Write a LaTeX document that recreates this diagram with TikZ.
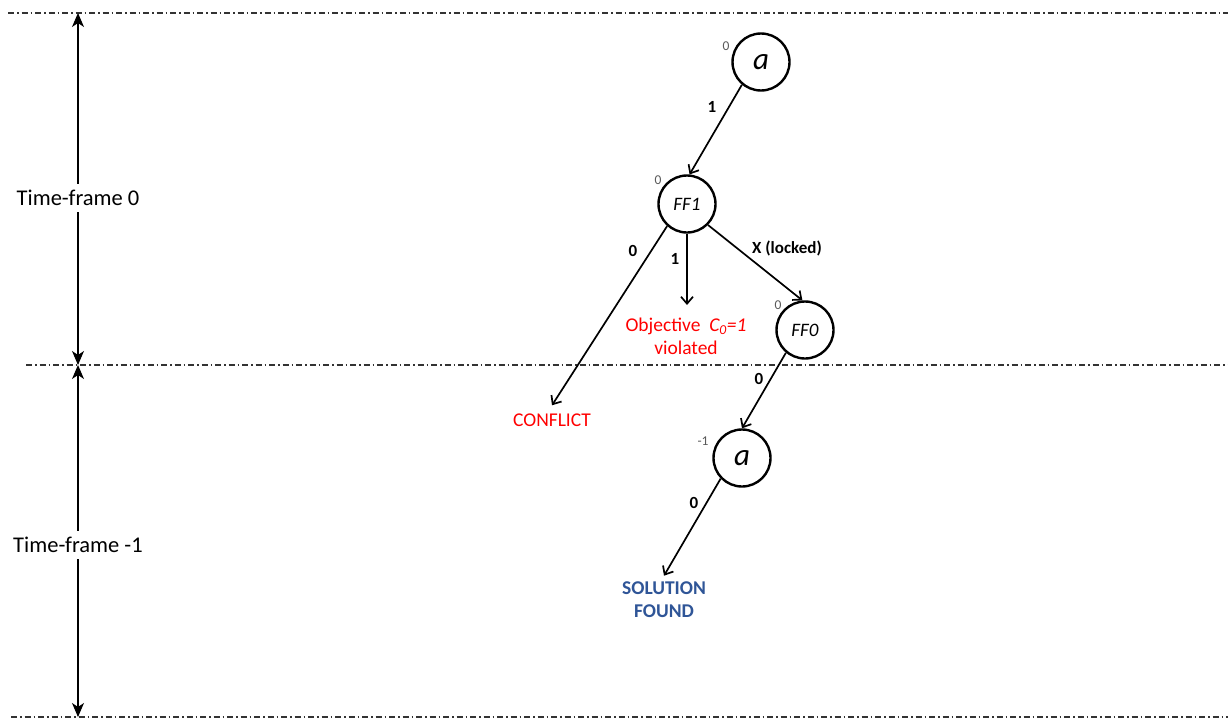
\documentclass[tikz,border=0pt]{standalone}
\usepackage{fontspec}
\setmainfont{Carlito}
\usepackage{tikz}
\usetikzlibrary{arrows.meta}
\definecolor{konfliktrot}{RGB}{255,0,0}
\definecolor{loesungblau}{RGB}{47,85,151}
\definecolor{zahlgrau}{RGB}{90,90,90}

\begin{document}
\begin{tikzpicture}[x=1pt, y=-1pt,
			knoten/.style={draw, circle, line width=2.4pt, minimum size=57pt, inner sep=0pt, font=\fontsize{19}{22}\selectfont\itshape},
			gross/.style={font=\fontsize{31}{35}\selectfont\itshape},
			kante/.style={-{Straight Barb[length=7pt, width=12pt]}, line width=1.7pt},
			zeitpfeil/.style={{Stealth[length=14pt, width=12pt, inset=4pt]}-{Stealth[length=14pt, width=12pt, inset=4pt]}, line width=1.2pt},
			trennlinie/.style={line width=1.2pt, color=black!80, dash pattern=on 6pt off 3pt on 1.5pt off 3pt},
			marke/.style={font=\fontsize{17}{20}\selectfont\bfseries, inner sep=1pt},
			zahl/.style={font=\fontsize{13.5}{15}\selectfont, text=zahlgrau, inner sep=0pt},
			rahmentext/.style={fill=white, font=\fontsize{22.5}{26}\selectfont, inner sep=6pt}]
			%Bildbereich festlegen
			\useasboundingbox (0,0) rectangle (1228,720);
			%Trennlinien der Zeitrahmen
			\draw[trennlinie] (8,13) -- (1228,13);
			\draw[trennlinie] (26,365) -- (1228,365);
			\draw[trennlinie] (11,717) -- (1228,717);
			%Zeitrahmen links
			\coordinate (t0) at (78,13);
			\coordinate (t1) at (78,365);
			\coordinate (t2) at (78,717);
			\draw[zeitpfeil] (t0) -- node[rahmentext, pos=0.526] (tf0) {Time-frame 0} (t1);
			\draw[zeitpfeil] (t1) -- node[rahmentext, pos=0.511] (tf1) {Time-frame -1} (t2);
			%Knoten zeichnen
			\node[knoten, gross] (a0) at (761,62) {a};
			\node[knoten] (ff1) at (687,204) {FF1};
			\node[knoten] (ff0) at (805,330) {FF0};
			\node[knoten, gross] (a1) at (742,458) {a};
			% Zeitindex an den Knoten
			\node[zahl] (z0) at (726,46) {0};
			\node[zahl] (z1) at (658,180) {0};
			\node[zahl] (z2) at (778,305) {0};
			\node[zahl] (z3) at (703,441) {-1};
			%Ergebnisse
			\node[text=konfliktrot, font=\fontsize{19.5}{23}\selectfont, outer sep=5pt] (konflikt) at (552,420) {CONFLICT};
			\node[text=konfliktrot, font=\fontsize{19.5}{23}\selectfont, align=center] (ziel) at (686,336) {Objective\ \ \textit{C\textsubscript{0}=1}\\violated};
			\coordinate (zielspitze) at (687,305);
			\node[text=loesungblau, font=\fontsize{19.5}{23}\selectfont\bfseries, align=center, outer sep=3pt] (loesung) at (664,600) {SOLUTION\\FOUND};
			%Kanten zeichnen
			\draw[kante] (a0.230) -- (ff1.85);
			\draw[kante] (ff1.228) -- (konflikt.north);
			\draw[kante] (ff1.south) -- (zielspitze);
			\draw[kante] (ff1.315) -- (ff0.95);
			\draw[kante] (ff0.230) -- (a1.north);
			\draw[kante] (a1.224) -- (loesung.north);
			%Beschriftung der Kanten
			\node[marke] (k1) at (712,107) {1};
			\node[marke] (k2) at (633,251) {0};
			\node[marke] (k3) at (675,259) {1};
			\node[marke] (k4) at (787,248) {X (locked)};
			\node[marke] (k5) at (759,379) {0};
			\node[marke] (k6) at (694,503) {0};
		\end{tikzpicture}
\end{document}
